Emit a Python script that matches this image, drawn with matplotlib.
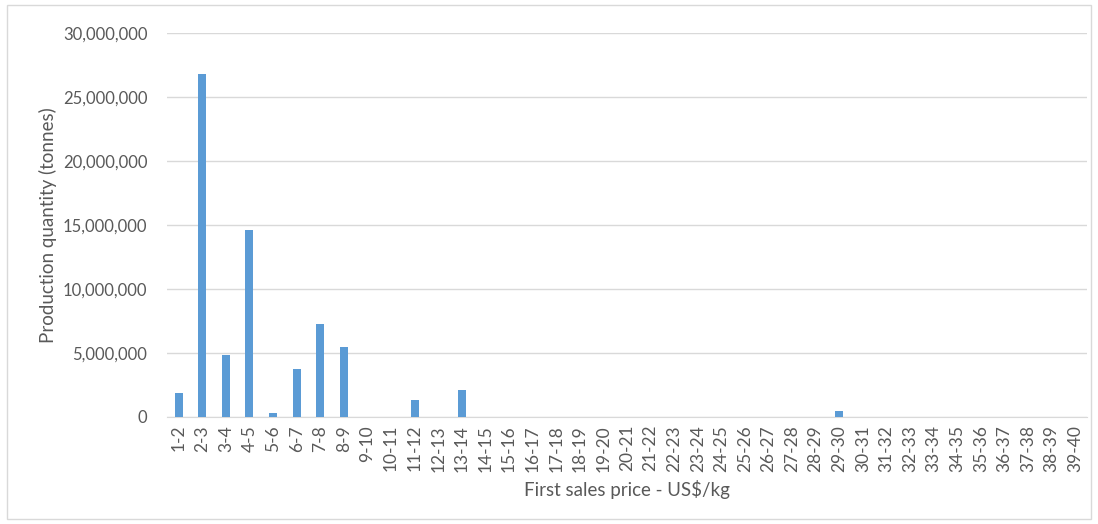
import numpy as np
import matplotlib.pyplot as plt
from matplotlib.ticker import FuncFormatter
from matplotlib.patches import Rectangle

# price bands in US$/kg
bands = [f"{i}-{i+1}" for i in range(1, 40)]

# production quantity (tonnes) per price band
quantity = [1880000, 26800000, 4780000, 14570000, 300000, 3760000, 7280000, 5480000,
            0, 0, 1330000, 0, 2100000, 0, 0, 0, 0, 0, 0, 0, 0, 0, 0, 0, 0, 0, 0, 0,
            400000, 0, 0, 0, 0, 0, 0, 0, 0, 0, 0]

plt.rcParams['font.family'] = ['Lato', 'DejaVu Sans']
grey = '#595959'

fig = plt.figure(figsize=(10.98, 5.24), dpi=100)
ax = fig.add_axes([0.152, 0.205, 0.838, 0.732])

x = np.arange(len(bands))
ax.bar(x, quantity, width=0.34, color='#5B9BD5', zorder=3)

ax.set_xlim(-0.5, len(bands) - 0.5)
ax.set_ylim(0, 30000000)
ax.set_yticks(np.arange(0, 30000001, 5000000))
ax.yaxis.set_major_formatter(FuncFormatter(lambda v, p: f"{int(v):,}"))
ax.set_xticks(x)
ax.set_xticklabels(bands, rotation=90)
ax.grid(axis='y', color='#D9D9D9', linewidth=1, zorder=0)
for s in ['top', 'right', 'left']:
    ax.spines[s].set_visible(False)
ax.spines['bottom'].set_color('#D9D9D9')
ax.tick_params(axis='both', length=0, colors=grey, labelsize=12.5)
ax.tick_params(axis='y', pad=14, labelsize=12)
ax.tick_params(axis='x', pad=6)

ax.set_ylabel('Production quantity (tonnes)', color=grey, fontsize=13.5, labelpad=4)
ax.set_xlabel('First sales price - US$/kg', color=grey, fontsize=13.5, labelpad=6)

# outer chart border
fig.patches.append(Rectangle((0.006, 0.01), 0.988, 0.98, transform=fig.transFigure,
                             fill=False, edgecolor='#D9D9D9', linewidth=1))

fig.savefig('out.png', dpi=100)
